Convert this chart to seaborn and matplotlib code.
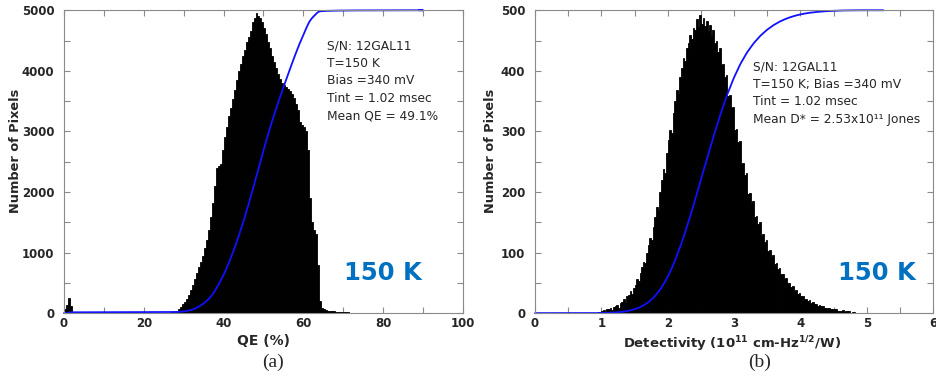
import numpy as np
import pandas as pd
import matplotlib.pyplot as plt
from matplotlib.ticker import MultipleLocator
import seaborn as sns

# (a) QE histogram: 0.5 % wide bins from 0 to 90 %
qe_bin_start = 0.0
qe_bin_width = 0.5
qe_counts = [
    60, 130, 250, 110,
    12, 6, 4, 5, 3, 4, 2, 3, 4, 3, 2, 3, 2, 4, 3, 2,
    3, 2, 3, 2, 4, 3, 2, 3, 2, 3, 4, 2, 3, 3, 2, 4, 3, 3, 4, 3,
    4, 3, 5, 4, 4, 5, 6, 5, 6, 7, 8, 9, 10, 12, 15, 20,
    35, 65, 105, 150, 190, 235, 300, 380, 465, 560,
    655, 760, 850, 950, 1070, 1200, 1380, 1580, 1820, 2100,
    2400, 2430, 2460, 2700, 2900, 3080, 3250, 3380, 3530, 3680,
    3850, 4000, 4120, 4250, 4350, 4470, 4560, 4650, 4800, 4880,
    4950, 4900, 4870, 4800, 4700, 4600, 4480, 4380, 4250, 4150,
    4050, 3950, 3870, 3800, 3760, 3730, 3700, 3660, 3620, 3550,
    3450, 3350, 3150, 3100, 3080, 3000, 2700, 1900, 1500, 1380,
    1300, 800, 200, 90, 60, 50,
    40, 35, 30, 28, 25, 22, 20, 18,
    15, 14, 12, 10, 9, 8, 7, 6, 6, 5,
    5, 4, 4, 5, 3, 4, 3, 4, 3, 3, 4, 2, 3, 3, 2,
    3, 2, 3, 2, 2, 3, 2, 2, 3, 2, 2, 1, 2, 2, 1,
]

# (b) detectivity histogram: 0.025e11 wide bins from 0.9 to 4.9
det_bin_start = 0.9
det_bin_width = 0.025
det_counts = [
    0, 1, 2, 1, 3, 5, 2, 6,
    6, 9, 5, 10, 11, 14, 9, 17,
    18, 23, 16, 28, 30, 36, 31, 42,
    47, 56, 53, 66, 76, 84, 82, 99,
    112, 124, 120, 143, 158, 175, 169, 200,
    220, 238, 232, 265, 285, 302, 298, 330,
    350, 369, 362, 389, 404, 422, 416, 438,
    446, 459, 452, 471, 468, 485, 472, 493,
    478, 488, 474, 482, 466, 476, 458, 468,
    446, 450, 431, 438, 410, 412, 390, 393,
    358, 360, 338, 340, 302, 304, 282, 284,
    246, 248, 228, 231, 197, 199, 181, 185,
    159, 160, 147, 150, 128, 130, 117, 120,
    102, 104, 93, 96, 81, 83, 73, 75,
    64, 65, 56, 58, 49, 50, 43, 44,
    37, 38, 32, 33, 28, 29, 23, 24,
    20, 21, 17, 18, 15, 15, 12, 13,
    11, 11, 8, 9, 8, 8, 6, 6,
    6, 6, 3, 4, 4, 5, 2, 3,
    3, 3, 1, 2, 2, 1, 0, 1,
]

qe_ymax = 5000
det_ymax = 500
qe_curve_end = 89
det_curve_end = 5.25

qe_info = "S/N: 12GAL11\nT=150 K\nBias =340 mV\nTint = 1.02 msec\nMean QE = 49.1%"
det_info = "S/N: 12GAL11\nT=150 K; Bias =340 mV\nTint = 1.02 msec\nMean D* = 2.53x10¹¹ Jones"

sns.set_theme(style="white")
plt.rcParams['font.family'] = ['DejaVu Sans']
plt.rcParams['mathtext.fontset'] = 'dejavusans'

fig = plt.figure(figsize=(9.37, 3.8), dpi=100)
ax1 = fig.add_axes([0.0683, 0.176, 0.4258, 0.797])
ax2 = fig.add_axes([0.571, 0.176, 0.4248, 0.797])


def draw_panel(ax, start, width, counts, ymax, curve_end):
    counts = np.array(counts, dtype=float)
    n = len(counts)
    edges = np.linspace(start, start + width * n, n + 1)
    df = pd.DataFrame({"value": edges[:-1] + width / 2, "pixels": counts})
    sns.histplot(data=df, x="value", weights="pixels", bins=n,
                 binrange=(edges[0], edges[-1]), element="bars",
                 color="black", alpha=1, linewidth=0.6,
                 edgecolor="black", ax=ax)
    # cumulative distribution scaled to the top of the axis
    cum = np.cumsum(counts) / counts.sum() * ymax
    cx = np.concatenate([[0, edges[0]], edges[1:], [curve_end]])
    cy = np.concatenate([[0, 0], cum, [ymax]])
    sns.lineplot(x=cx, y=cy, color="#1010ff", linewidth=1.3, ax=ax,
                 estimator=None, sort=False)
    ax.lines[-1].set_clip_on(False)


draw_panel(ax1, qe_bin_start, qe_bin_width, qe_counts, qe_ymax, qe_curve_end)
draw_panel(ax2, det_bin_start, det_bin_width, det_counts, det_ymax, det_curve_end)

ax1.set_xlim(0, 100)
ax1.set_ylim(0, qe_ymax)
ax1.xaxis.set_major_locator(MultipleLocator(20))
ax1.xaxis.set_minor_locator(MultipleLocator(10))
ax1.yaxis.set_major_locator(MultipleLocator(1000))
ax1.yaxis.set_minor_locator(MultipleLocator(500))

ax2.set_xlim(0, 6)
ax2.set_ylim(0, det_ymax)
ax2.xaxis.set_major_locator(MultipleLocator(1))
ax2.xaxis.set_minor_locator(MultipleLocator(0.5))
ax2.yaxis.set_major_locator(MultipleLocator(100))
ax2.yaxis.set_minor_locator(MultipleLocator(50))

ax1.set_xlabel("QE (%)", fontsize=10, fontweight="bold")
ax2.set_xlabel(r"Detectivity (10$^{\bf 11}$ cm-Hz$^{\bf 1/2}$/W)",
               fontsize=9.5, fontweight="bold")
for ax in (ax1, ax2):
    ax.set_ylabel("Number of Pixels", fontsize=9.3, fontweight="bold")
    ax.tick_params(which="both", direction="in", top=True, right=True,
                   bottom=True, left=True, length=4, width=0.8,
                   color="#8a8a8a", labelsize=8.5, pad=3)
    ax.tick_params(axis="y", pad=7)
    for lbl in ax.get_xticklabels() + ax.get_yticklabels():
        lbl.set_fontweight("bold")
    for sp in ax.spines.values():
        sp.set_color("#8a8a8a")
        sp.set_linewidth(0.8)
    ax.text(0.80 if ax is ax1 else 0.858, 0.132, "150 K", transform=ax.transAxes,
            ha="center", va="center", fontsize=17.5, fontweight="bold",
            color="#0070c0")

ax1.xaxis.set_label_coords(0.5, -0.07)
ax2.xaxis.set_label_coords(0.495, -0.07)
ax1.yaxis.set_label_coords(-0.105, 0.535)
ax2.yaxis.set_label_coords(-0.095, 0.535)

ax1.text(0.659, 0.905, qe_info, transform=ax1.transAxes, ha="left", va="top",
         fontsize=8.8, linespacing=1.45)
ax2.text(0.548, 0.835, det_info, transform=ax2.transAxes, ha="left", va="top",
         fontsize=8.8, linespacing=1.45)

fig.text(0.291, 0.047, "(a)", ha="center", va="center", fontsize=14,
         family="Liberation Serif")
fig.text(0.811, 0.047, "(b)", ha="center", va="center", fontsize=14,
         family="Liberation Serif")

fig.savefig("out.png", dpi=100)
